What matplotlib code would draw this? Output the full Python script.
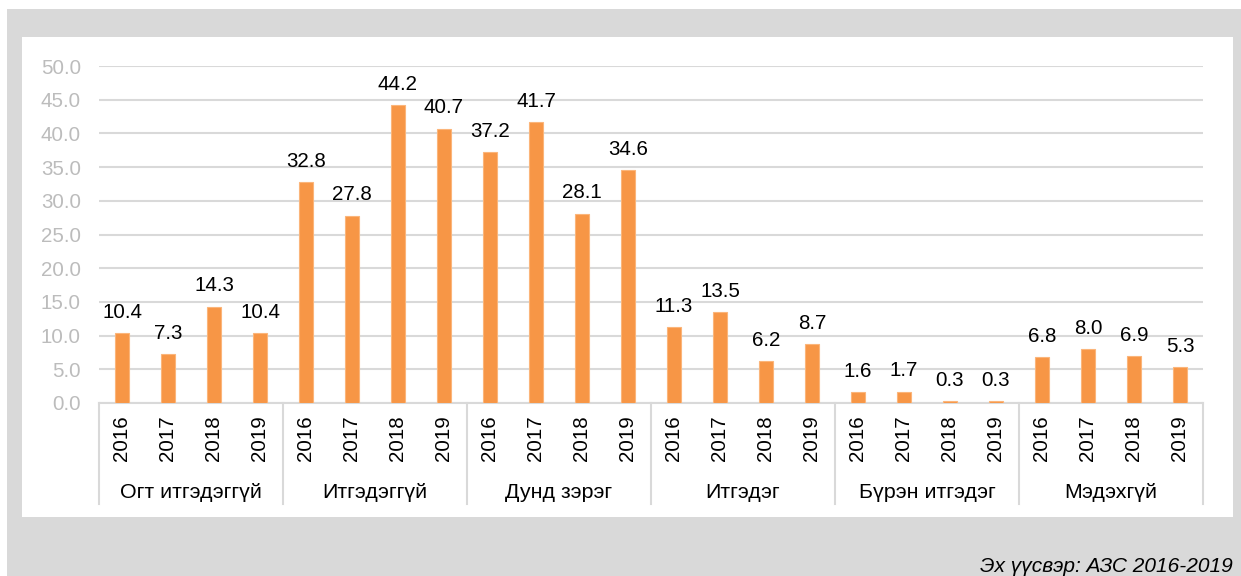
import matplotlib
matplotlib.use("Agg")
import matplotlib.pyplot as plt
from matplotlib.patches import Rectangle
import matplotlib.transforms as mtransforms

plt.rcParams['font.family'] = ['Liberation Sans', 'DejaVu Sans']

categories = ["Огт итгэдэггүй", "Итгэдэггүй", "Дунд зэрэг", "Итгэдэг", "Бүрэн итгэдэг", "Мэдэхгүй"]
years = ["2016", "2017", "2018", "2019"]
values = {
    "Огт итгэдэггүй": [10.4, 7.3, 14.3, 10.4],
    "Итгэдэггүй": [32.8, 27.8, 44.2, 40.7],
    "Дунд зэрэг": [37.2, 41.7, 28.1, 34.6],
    "Итгэдэг": [11.3, 13.5, 6.2, 8.7],
    "Бүрэн итгэдэг": [1.6, 1.7, 0.3, 0.3],
    "Мэдэхгүй": [6.8, 8.0, 6.9, 5.3],
}
yticks = [0, 5, 10, 15, 20, 25, 30, 35, 40, 45, 50]
source = "Эх үүсвэр: АЗС 2016-2019"

W, H = 1241, 576
fig = plt.figure(figsize=(W / 100, H / 100), dpi=100)
fig.patch.set_facecolor("white")

def frac_rect(x0, y0, x1, y1, color):
    fig.patches.append(Rectangle((x0 / W, 1 - y1 / H), (x1 - x0) / W, (y1 - y0) / H,
                                 transform=fig.transFigure, facecolor=color,
                                 edgecolor="none", zorder=-10))

frac_rect(7, 9, W, H, "#d9d9d9")
frac_rect(22, 37, 1233, 517, "white")

left, right, top, bottom = 99, 1203, 66, 403
ax = fig.add_axes([left / W, 1 - bottom / H, (right - left) / W, (bottom - top) / H])
ax.set_facecolor("none")

xs, hs, xl = [], [], []
i = 0
for c in categories:
    for j, y in enumerate(years):
        xs.append(i)
        hs.append(values[c][j])
        xl.append(y)
        i += 1

FS = 14.8
ax.bar(xs, hs, width=0.31, color="#f79646", edgecolor="#fbb57a", linewidth=0.8, zorder=3)
for x, h in zip(xs, hs):
    ax.annotate(f"{h:.1f}", (x, h), xytext=(0, 11), textcoords="offset points",
                ha="center", va="baseline", fontsize=FS, color="black")

ax.set_xlim(-0.5, len(xs) - 0.5)
ax.set_ylim(0, 50)
ax.set_yticks(yticks)
ax.set_yticklabels([f"{t:.1f}" for t in yticks])
ax.yaxis.grid(True, color="#d9d9d9", linewidth=1.5, zorder=0)
ax.set_axisbelow(True)
ax.tick_params(axis="y", length=0, pad=13, labelsize=FS, labelcolor="#bcbcbc")
ax.set_xticks(xs)
ax.set_xticklabels(xl, rotation=90, fontsize=FS)
ax.tick_params(axis="x", length=0, pad=9)
for s in ["top", "right", "left"]:
    ax.spines[s].set_visible(False)
ax.spines["bottom"].set_color("#d9d9d9")
ax.spines["bottom"].set_linewidth(1.5)

trans = mtransforms.blended_transform_factory(ax.transData, ax.transAxes)
sep_bottom = (bottom - 504) / (bottom - top)
lab_y = (bottom - 492) / (bottom - top)
n = len(years)
for k, c in enumerate(categories):
    ax.text(k * n + (n - 1) / 2, lab_y, c, transform=trans, ha="center", va="center", fontsize=15.4)
for k in range(len(categories) + 1):
    xb = k * n - 0.5
    ax.plot([xb, xb], [0, sep_bottom], transform=trans, color="#d9d9d9", linewidth=1.5, clip_on=False)

fig.text(1233 / W, 1 - 566 / H, source, ha="right", va="center", fontsize=15, style="italic")

fig.savefig("out.png", dpi=100)
